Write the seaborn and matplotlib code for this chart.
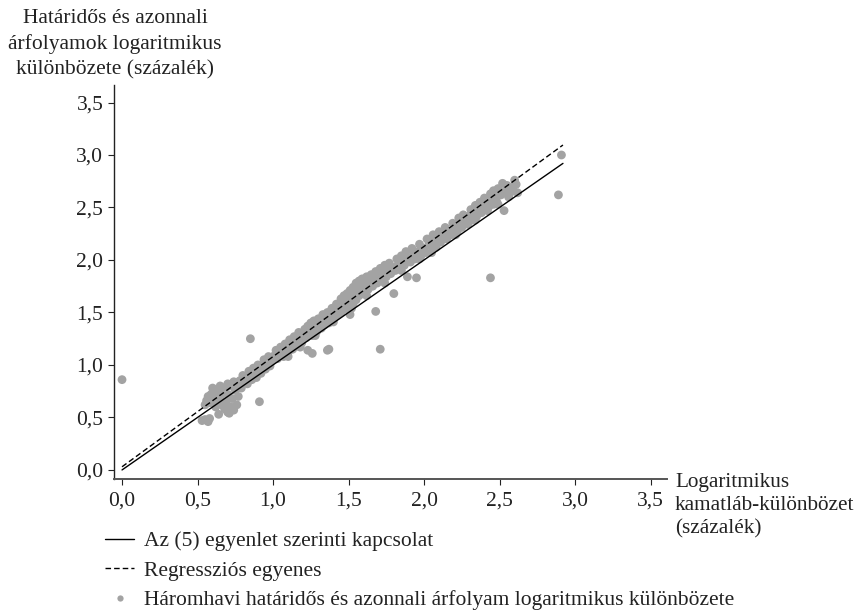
import matplotlib
matplotlib.use("Agg")
import matplotlib.pyplot as plt
import seaborn as sns
import pandas as pd
from matplotlib.lines import Line2D

# kamatláb-különbözet (x) és árfolyam-különbözet (y)
xs = [0.00,
      0.53, 0.55, 0.57, 0.58, 0.55, 0.56, 0.57, 0.58, 0.59, 0.60, 0.61, 0.62, 0.62, 0.63,
      0.64, 0.64, 0.65, 0.66, 0.67, 0.68, 0.68, 0.69, 0.70, 0.70, 0.71, 0.72, 0.72, 0.73,
      0.74, 0.75, 0.76, 0.76, 0.77, 0.78, 0.79, 0.80,
      0.82, 0.83, 0.85, 0.85, 0.86, 0.88, 0.89, 0.90, 0.91, 0.92, 0.93, 0.95, 0.96, 0.98,
      1.00, 1.01, 1.03, 1.04, 1.06, 1.07, 1.09, 1.10, 1.12, 1.13, 1.15, 1.16, 1.18, 1.19,
      1.20, 1.22, 1.23, 1.24, 1.26, 1.26, 1.28, 1.29, 1.31, 1.32, 1.33, 1.34, 1.35, 1.36,
      1.37, 1.37, 1.38, 1.39, 1.40, 1.41, 1.42, 1.43, 1.44, 1.45, 1.46, 1.47, 1.48, 1.49,
      1.50, 1.51, 1.52, 1.53, 1.54, 1.55, 1.56, 1.57, 1.58, 1.60, 1.61, 1.63, 1.64, 1.66,
      1.67, 1.68, 1.69, 1.70, 1.71, 1.72, 1.73, 1.75, 1.76, 1.78, 1.79, 1.80, 1.81, 1.83,
      1.84, 1.86, 1.87, 1.89, 1.89, 1.91, 1.93, 1.94, 1.95, 1.96, 1.98, 2.00, 2.01, 2.03,
      2.05, 2.05, 2.07, 2.09,
      2.11, 2.13, 2.15, 2.17, 2.18, 2.20, 2.22, 2.24, 2.25, 2.27, 2.29, 2.30, 2.32, 2.33,
      2.35, 2.36, 2.38, 2.39, 2.41, 2.42, 2.43, 2.44, 2.45, 2.46, 2.47, 2.48, 2.49, 2.50,
      2.52, 2.53, 2.54, 2.56, 2.58, 2.60, 2.62, 2.89, 2.91,
      # a sáv felső széle
      0.60, 0.65, 0.70, 0.74, 0.80, 0.84, 0.87, 0.90, 0.94, 0.97, 1.02, 1.05, 1.08, 1.11,
      1.14, 1.17, 1.21, 1.23, 1.25, 1.27, 1.30, 1.33, 1.36, 1.39, 1.42, 1.45, 1.47, 1.49,
      1.51, 1.53, 1.55, 1.57, 1.59, 1.62, 1.65, 1.68, 1.71, 1.74, 1.77, 1.82, 1.85, 1.88,
      1.92, 1.97, 2.02, 2.06, 2.10, 2.14, 2.19, 2.23, 2.26, 2.31, 2.34, 2.37, 2.40, 2.44,
      2.46, 2.49, 2.51, 2.55, 2.57, 2.59, 2.61,
      # a sáv alsó széle
      1.10, 1.18, 1.28, 1.40, 1.52, 1.62, 1.74, 1.85, 1.97, 2.08, 2.21, 2.34, 2.42]
ys = [0.86,
      0.47, 0.48, 0.46, 0.49, 0.62, 0.66, 0.70, 0.64, 0.72, 0.68, 0.74, 0.66, 0.60, 0.71,
      0.76, 0.53, 0.68, 0.62, 0.73, 0.58, 0.78, 0.65, 0.55, 0.72, 0.54, 0.80, 0.60, 0.68,
      0.57, 0.76, 0.62, 0.82, 0.70, 0.85, 0.78, 0.83,
      0.88, 0.82, 1.25, 0.90, 0.86, 0.93, 0.88, 0.96, 0.65, 0.92, 0.99, 0.96, 1.02, 0.99,
      1.05, 1.09, 1.06, 1.11, 1.13, 1.08, 1.16, 1.12, 1.19, 1.15, 1.22, 1.18, 1.25, 1.21,
      1.29, 1.26, 1.14, 1.31, 1.11, 1.28, 1.35, 1.32, 1.38, 1.35, 1.42, 1.38, 1.45, 1.14,
      1.15, 1.40, 1.47, 1.43, 1.50, 1.46, 1.52, 1.48, 1.55, 1.50, 1.57, 1.53, 1.60, 1.56,
      1.62, 1.48, 1.66, 1.58, 1.70, 1.62, 1.73, 1.66, 1.75, 1.69, 1.77, 1.72, 1.79, 1.75,
      1.82, 1.51, 1.78, 1.85, 1.15, 1.81, 1.88, 1.84, 1.90, 1.87, 1.93, 1.68, 1.90, 1.96,
      1.92, 1.99, 1.95, 1.84, 2.02, 1.98, 2.05, 2.01, 1.83, 2.08, 2.04, 2.11, 2.07, 2.14,
      2.07, 2.18, 2.13, 2.20,
      2.17, 2.24, 2.20, 2.27, 2.24, 2.31, 2.27, 2.35, 2.31, 2.38, 2.34, 2.42, 2.38, 2.45,
      2.42, 2.49, 2.45, 2.52, 2.48, 2.55, 2.51, 1.83, 2.58, 2.53, 2.61, 2.56, 2.53, 2.64,
      2.73, 2.47, 2.66, 2.60, 2.68, 2.76, 2.64, 2.62, 3.00,
      0.78, 0.80, 0.82, 0.84, 0.90, 0.94, 0.97, 1.00, 1.05, 1.08, 1.14, 1.17, 1.20, 1.24,
      1.27, 1.31, 1.34, 1.37, 1.40, 1.42, 1.44, 1.48, 1.50, 1.54, 1.58, 1.63, 1.66, 1.68,
      1.71, 1.74, 1.78, 1.80, 1.82, 1.84, 1.86, 1.89, 1.92, 1.95, 1.97, 2.01, 2.04, 2.08,
      2.11, 2.15, 2.20, 2.24, 2.27, 2.31, 2.35, 2.40, 2.43, 2.48, 2.52, 2.55, 2.59, 2.63,
      2.66, 2.68, 2.62, 2.71, 2.64, 2.70, 2.72,
      1.08, 1.17, 1.28, 1.41, 1.54, 1.66, 1.78, 1.90, 2.01, 2.12, 2.24, 2.38, 2.47]

# egyenesek végpontjai
line_x = [0.0, 2.92]
eq5_y = [0.0, 2.92]
reg_y = [0.03, 3.095]

ticks = [0.0, 0.5, 1.0, 1.5, 2.0, 2.5, 3.0, 3.5]
tick_labels = ["0,0", "0,5", "1,0", "1,5", "2,0", "2,5", "3,0", "3,5"]

sns.set_theme(style="ticks")
plt.rcParams["font.family"] = ["Liberation Serif", "DejaVu Serif"]

fig = plt.figure(figsize=(8.56, 6.10), dpi=100)
ax = fig.add_axes([0.1332, 0.2148, 0.646, 0.6459])

pts = pd.DataFrame({"x": xs, "y": ys})
sns.scatterplot(data=pts, x="x", y="y", ax=ax, color="#a3a3a3", s=40,
                edgecolor="none", linewidth=0, zorder=2)
sns.lineplot(x=line_x, y=eq5_y, ax=ax, color="black", lw=1.0, zorder=3)
sns.lineplot(x=line_x, y=reg_y, ax=ax, color="black", lw=1.0, zorder=3)
ax.lines[-1].set_dashes((4, 2.2))

ax.set_xlim(-0.053, 3.609)
ax.set_ylim(-0.086, 3.667)
ax.set_xticks(ticks)
ax.set_xticklabels(tick_labels)
ax.set_yticks(ticks)
ax.set_yticklabels(tick_labels)
ax.set_xlabel("")
ax.set_ylabel("")
for side in ["top", "right"]:
    ax.spines[side].set_visible(False)
ax.spines["left"].set_color("#222222")
ax.spines["bottom"].set_color("#555555")
ax.spines["left"].set_linewidth(1.0)
ax.spines["bottom"].set_linewidth(1.4)
ax.tick_params(axis="x", length=4.3, width=0.8, pad=5.0, labelsize=15.5, colors="#222222")
ax.tick_params(axis="y", length=4.2, width=0.8, pad=3.5, labelsize=15.5, colors="#222222")

fig.text(115 / 856, 1 - 9 / 610,
         "Határidős és azonnali\nárfolyamok logaritmikus\nkülönbözete (százalék)",
         ha="center", va="top", fontsize=15.5, linespacing=1.43, color="#222222")
fig.text(675 / 856, 1 - 473 / 610,
         "Logaritmikus\nkamatláb-különbözet\n(százalék)",
         ha="left", va="top", fontsize=15.3, linespacing=1.28, color="#222222")

handles = [Line2D([], [], color="black", lw=1.0),
           Line2D([], [], color="black", lw=1.0, dashes=(4, 2.2)),
           Line2D([], [], color="#a3a3a3", marker="o", ls="none", markersize=4.5,
                  markeredgewidth=0)]
labels = ["Az (5) egyenlet szerinti kapcsolat",
          "Regressziós egyenes",
          "Háromhavi határidős és azonnali árfolyam logaritmikus különbözete"]
fig.legend(handles, labels, loc="upper left", bbox_to_anchor=(105 / 856, 1 - 531 / 610),
           frameon=False, fontsize=15.5, handlelength=1.35, handletextpad=0.45,
           labelspacing=0.44, borderpad=0, borderaxespad=0, labelcolor="#222222")

fig.savefig("out.png", dpi=100)
